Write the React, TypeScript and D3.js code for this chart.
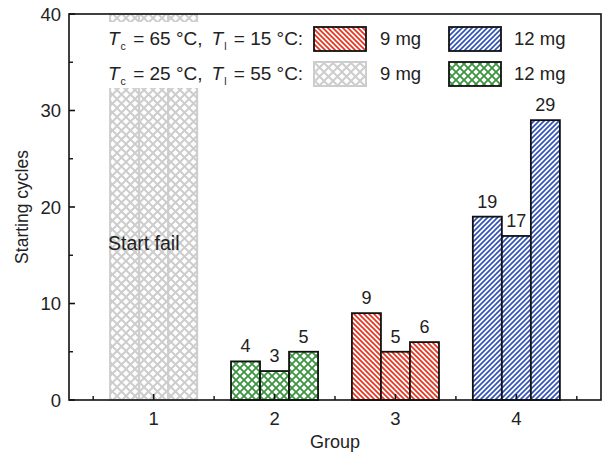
import React from "react";
import * as d3 from "d3";

const groupLabels = ["1", "2", "3", "4"];
const groupPositions = [1, 2, 3, 4];
const group1Values: (number | null)[] = [null, null, null]; // start fail
const group2Values = [4, 3, 5];
const group3Values = [9, 5, 6];
const group4Values = [19, 17, 29];
const yMajorTicks = [0, 10, 20, 30, 40];
const yMinorTicks = [5, 15, 25, 35];
const xMinorTicks = [0.5, 1.5, 2.5, 3.5, 4.5];

const W = 606;
const H = 455;
const FONT = "'Liberation Sans', Arial, sans-serif";

const x = d3.scaleLinear().domain([0.3, 4.7]).range([69, 601]);
const y = d3.scaleLinear().domain([0, 40]).range([400, 14]);
const barW = x(0.24) - x(0);

const groups = [
  { pos: groupPositions[0], values: group1Values, pattern: "gray" },
  { pos: groupPositions[1], values: group2Values, pattern: "green" },
  { pos: groupPositions[2], values: group3Values, pattern: "red" },
  { pos: groupPositions[3], values: group4Values, pattern: "blue" },
];

function Patterns() {
  return (
    <defs>
      <pattern id="red" patternUnits="userSpaceOnUse" width={5} height={5}>
        <rect width={5} height={5} fill="#fff" />
        <path d="M-1,-1 L6,6 M-1,4 L1,6 M4,-1 L6,1" stroke="#e8331f" strokeWidth={1.7} />
      </pattern>
      <pattern id="blue" patternUnits="userSpaceOnUse" width={5} height={5}>
        <rect width={5} height={5} fill="#fff" />
        <path d="M-1,6 L6,-1 M-1,1 L1,-1 M4,6 L6,4" stroke="#3453b8" strokeWidth={1.7} />
      </pattern>
      <pattern id="green" patternUnits="userSpaceOnUse" width={8} height={8}>
        <rect width={8} height={8} fill="#fff" />
        <path d="M0,0 L8,8 M8,0 L0,8" stroke="#3a9440" strokeWidth={1.8} />
      </pattern>
      <pattern id="gray" patternUnits="userSpaceOnUse" width={9} height={9}>
        <rect width={9} height={9} fill="#fff" />
        <path d="M0,0 L9,9 M9,0 L0,9" stroke="#cdcdcd" strokeWidth={2} />
      </pattern>
    </defs>
  );
}

function LegendLabel({ x0, yb, tc, tl }: { x0: number; yb: number; tc: string; tl: string }) {
  return (
    <text x={x0} y={yb} fontFamily={FONT} fontSize={19} fill="#222">
      <tspan fontStyle="italic">T</tspan>
      <tspan fontSize={10.5} dy={5} dx={1}>c</tspan>
      <tspan dy={-5} dx={2}>{` = ${tc} °C,`}</tspan>
      <tspan dx={9} fontStyle="italic">T</tspan>
      <tspan fontSize={10.5} dy={5} dx={1}>l</tspan>
      <tspan dy={-5} dx={2}>{` = ${tl} °C:`}</tspan>
    </text>
  );
}

export default function App() {
  const top = y(40);
  const bottom = y(0);
  return (
    <svg width={W} height={H} style={{ position: "absolute", left: 0, top: 0, background: "#fff" }}>
      <Patterns />
      <rect width={W} height={H} fill="#fff" />
      {/* bars */}
      {groups.map((g, gi) =>
        g.values.map((v, i) => {
          const bx = x(g.pos) + (i - 1.5) * barW;
          const failed = v === null;
          const by = failed ? top : y(v as number);
          return (
            <rect
              key={`${gi}-${i}`}
              x={bx}
              y={by}
              width={barW}
              height={bottom - by}
              fill={`url(#${g.pattern})`}
              stroke={failed ? "#cdcdcd" : "#111"}
              strokeWidth={failed ? 2 : 1.8}
            />
          );
        })
      )}
      {/* value labels */}
      {groups.map((g, gi) =>
        g.values.map((v, i) =>
          v === null ? null : (
            <text
              key={`l${gi}-${i}`}
              x={x(g.pos) + (i - 1) * barW}
              y={y(v) - 9}
              textAnchor="middle"
              fontFamily={FONT}
              fontSize={18}
              fill="#222"
            >
              {v}
            </text>
          )
        )
      )}
      <text x={108} y={250} fontFamily={FONT} fontSize={19.5} fill="#222">
        Start fail
      </text>
      {/* legend */}
      <rect x={100} y={22} width={475} height={66} fill="#fff" />
      <LegendLabel x0={108} yb={45} tc="65" tl="15" />
      <LegendLabel x0={108} yb={80} tc="25" tl="55" />
      <rect x={314} y={27} width={52} height={24} fill="url(#red)" stroke="#111" strokeWidth={1.8} />
      <text x={380} y={45} fontFamily={FONT} fontSize={18.5} fill="#222">9 mg</text>
      <rect x={449} y={27} width={52} height={24} fill="url(#blue)" stroke="#111" strokeWidth={1.8} />
      <text x={514} y={45} fontFamily={FONT} fontSize={18.5} fill="#222">12 mg</text>
      <rect x={314} y={62} width={52} height={24} fill="url(#gray)" stroke="#cdcdcd" strokeWidth={2} />
      <text x={380} y={80} fontFamily={FONT} fontSize={18.5} fill="#222">9 mg</text>
      <rect x={449} y={62} width={52} height={24} fill="url(#green)" stroke="#111" strokeWidth={1.8} />
      <text x={514} y={80} fontFamily={FONT} fontSize={18.5} fill="#222">12 mg</text>
      {/* frame */}
      <rect x={x(0.3)} y={top} width={x(4.7) - x(0.3)} height={bottom - top} fill="none" stroke="#111" strokeWidth={1.6} />
      {/* y ticks */}
      {yMajorTicks.map((t) => (
        <g key={`yt${t}`}>
          <line x1={x(0.3)} x2={x(0.3) + 6} y1={y(t)} y2={y(t)} stroke="#111" strokeWidth={1.6} />
          <text x={61} y={y(t) + 6.5} textAnchor="end" fontFamily={FONT} fontSize={18.5} fill="#222">
            {t}
          </text>
        </g>
      ))}
      {yMinorTicks.map((t) => (
        <line key={`ym${t}`} x1={x(0.3)} x2={x(0.3) + 4} y1={y(t)} y2={y(t)} stroke="#111" strokeWidth={1.4} />
      ))}
      {/* x ticks */}
      {groupPositions.map((p, i) => (
        <g key={`xt${p}`}>
          <line x1={x(p)} x2={x(p)} y1={bottom} y2={bottom - 6} stroke="#111" strokeWidth={1.6} />
          <text x={x(p)} y={bottom + 25} textAnchor="middle" fontFamily={FONT} fontSize={18.5} fill="#222">
            {groupLabels[i]}
          </text>
        </g>
      ))}
      {xMinorTicks.map((p) => (
        <line key={`xm${p}`} x1={x(p)} x2={x(p)} y1={bottom} y2={bottom - 4} stroke="#111" strokeWidth={1.4} />
      ))}
      {/* axis titles */}
      <text x={x(2.5)} y={448} textAnchor="middle" fontFamily={FONT} fontSize={18} fill="#222">
        Group
      </text>
      <text
        transform={`translate(28, ${(top + bottom) / 2}) rotate(-90)`}
        textAnchor="middle"
        fontFamily={FONT}
        fontSize={17.5}
        fill="#222"
      >
        Starting cycles
      </text>
    </svg>
  );
}
